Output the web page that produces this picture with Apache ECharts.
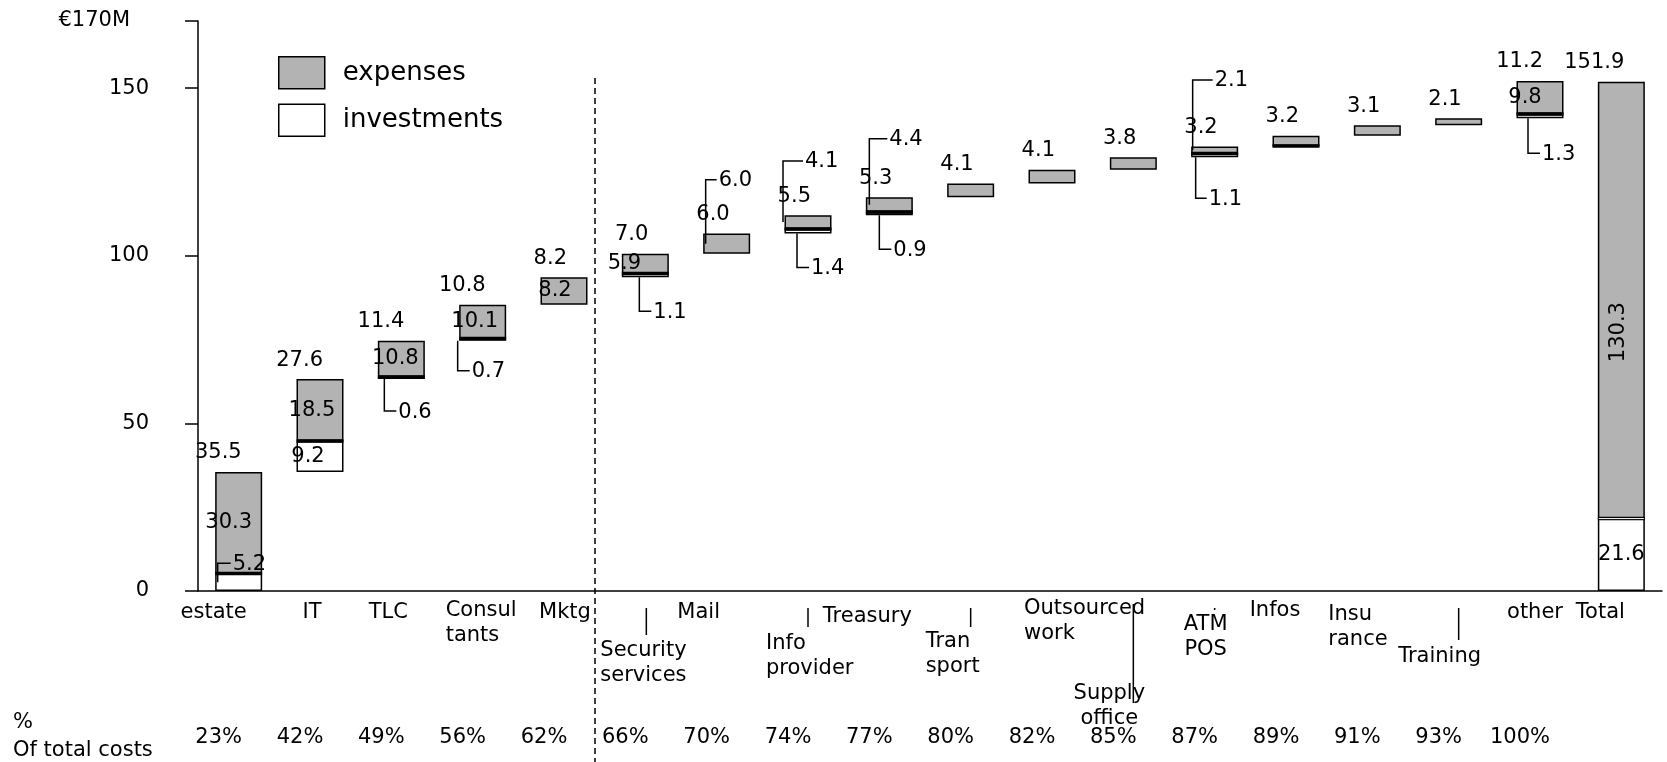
<!DOCTYPE html>
<html>
<head>
<meta charset="utf-8">
<script src="https://cdn.jsdelivr.net/npm/echarts@6/dist/echarts.min.js"></script>
<style>
  html, body { margin: 0; padding: 0; background: #fff; }
  #chart { width: 1667px; height: 762px; }
</style>
</head>
<body>
<div id="chart"></div>
<script>
// Cost categories, in waterfall order
const categories = ['estate', 'IT', 'TLC', 'Consul\ntants', 'Mktg', 'Security\nservices', 'Mail',
  'Info\nprovider', 'Treasury', 'Tran\nsport', 'Outsourced\nwork', 'Supply\noffice', 'ATM\nPOS',
  'Infos', 'Insu\nrance', 'Training', 'other', 'Total'];

// Expenses and investments per category (€M)
const expenses    = [30.3, 18.5, 10.8, 10.1, 8.2, 5.9, 6.0, 4.1, 4.4, 4.1, 4.1, 3.8, 2.1, 3.1, 3.1, 2.1, 9.8, 130.3];
const investments = [5.2, 9.2, 0.6, 0.7, 0, 1.1, 0, 1.4, 0.9, 0, 0, 0, 1.1, 0.1, 0, 0, 1.3, 21.6];

// Category totals as printed above each step
const totals = ['35.5', '27.6', '11.4', '10.8', '8.2', '7.0', '6.0', '5.5', '5.3', '4.1', '4.1', '3.8',
  '3.2', '3.2', '3.1', '2.1', '11.2', '151.9'];

// Cumulative share of total costs
const shareOfTotal = ['23%', '42%', '49%', '56%', '62%', '66%', '70%', '74%', '77%', '80%', '82%', '85%',
  '87%', '89%', '91%', '93%', '100%'];

// Value-axis ticks
const yTicks = [0, 50, 100, 150, 170];
const yMax = 170;

const TOTAL = categories.length - 1;
const FONT = '"DejaVu Sans", Verdana, sans-serif';
const FS = 21;

// Waterfall bases: each step starts where the previous one ended; Total starts at 0
const bases = [];
let run = 0;
for (let i = 0; i < TOTAL; i++) {
  bases.push(+run.toFixed(2));
  run += expenses[i] + investments[i];
}
bases.push(0);

// How each segment value is shown: inside the bar, or on an up / down leader
const segmentLabels = [
  { cat: 0, part: 'exp', mode: 'in', dx: -10 },
  { cat: 0, part: 'inv', mode: 'up', dx: -21, len: 19, arm: 13 },
  { cat: 1, part: 'exp', mode: 'in', dx: -8 },
  { cat: 1, part: 'inv', mode: 'in', dx: -12 },
  { cat: 2, part: 'exp', mode: 'in', dx: -6 },
  { cat: 2, part: 'inv', mode: 'down', dx: -17, len: 32, arm: 12 },
  { cat: 3, part: 'exp', mode: 'in', dx: -8 },
  { cat: 3, part: 'inv', mode: 'down', dx: -25, len: 30, arm: 12 },
  { cat: 4, part: 'exp', mode: 'in', dx: -9 },
  { cat: 5, part: 'exp', mode: 'in', dx: -21 },
  { cat: 5, part: 'inv', mode: 'down', dx: -6, len: 34, arm: 12 },
  { cat: 6, part: 'exp', mode: 'up', dx: -21, len: 64, arm: 11 },
  { cat: 7, part: 'exp', mode: 'up', dx: -25, len: 61, arm: 20 },
  { cat: 7, part: 'inv', mode: 'down', dx: -11, len: 34, arm: 12 },
  { cat: 8, part: 'exp', mode: 'up', dx: -20, len: 66, arm: 18 },
  { cat: 8, part: 'inv', mode: 'down', dx: -10, len: 34, arm: 12 },
  { cat: 12, part: 'exp', mode: 'up', dx: -22, len: 70, arm: 20 },
  { cat: 12, part: 'inv', mode: 'down', dx: -19, len: 41, arm: 11 },
  { cat: 16, part: 'exp', mode: 'in', dx: -15 },
  { cat: 16, part: 'inv', mode: 'down', dx: -12, len: 35, arm: 12 },
  { cat: 17, part: 'exp', mode: 'in', dx: -3, dy: 32, rotate: true },
  { cat: 17, part: 'inv', mode: 'in', dx: 0 }
];

// Placement of the category names under the axis (dx from bar centre, dy of first line below axis)
const nameLayout = [
  { dx: -25, dy: 22, align: 'center' },
  { dx: -8, dy: 22, align: 'center' },
  { dx: -13, dy: 22, align: 'center' },
  { dx: -37, dy: 20, align: 'left' },
  { dx: 1, dy: 22, align: 'center' },
  { dx: -45, dy: 60, align: 'left', lead: [1, 17, 44] },
  { dx: -28, dy: 22, align: 'center' },
  { dx: -42, dy: 53, align: 'left', lead: [0, 17, 36] },
  { dx: -22, dy: 26, align: 'center' },
  { dx: -45, dy: 51, align: 'left', lead: [0, 17, 36] },
  { dx: -28, dy: 18, align: 'left' },
  { dx: -24, dy: 103, align: 'center', lead: [0, 13, 112] },
  { dx: -9, dy: 34, align: 'center', lead: [0, 17, 19] },
  { dx: -21, dy: 20, align: 'center' },
  { dx: -49, dy: 24, align: 'left' },
  { dx: -19, dy: 66, align: 'center', lead: [0, 17, 49] },
  { dx: -5, dy: 22, align: 'center' },
  { dx: -21, dy: 22, align: 'center' }
];

const BAR_W = 47;
const LINE = { stroke: '#000', lineWidth: 1.5 };

function txt(text, x, y, align, vAlign, extra) {
  return Object.assign({
    type: 'text', x: x, y: y,
    style: { text: text, fill: '#000', font: FS + 'px ' + FONT, align: align, verticalAlign: vAlign, lineHeight: 25 }
  }, extra || {});
}

function renderItem(params, api) {
  const i = params.dataIndex;
  const out = [];
  const p0 = api.coord([i, 0]);
  const cx = p0[0], axisY = p0[1];
  const yOf = v => api.coord([i, v])[1];
  const b = bases[i], inv = investments[i], exp = expenses[i];
  const topY = yOf(b + inv + exp);

  // divider between investment and expense parts
  if (inv > 0) {
    const yb = yOf(b + inv);
    const x1 = cx - BAR_W / 2, x2 = cx + BAR_W / 2;
    out.push({ type: 'line', shape: { x1: x1, y1: yb, x2: x2, y2: yb }, style: { stroke: '#000', lineWidth: 3.5 } });
    if (i === TOTAL) {
      out.push({ type: 'line', shape: { x1: x1 + 1, y1: yb, x2: x2 - 1, y2: yb }, style: { stroke: '#fff', lineWidth: 1 } });
    }
  }

  // step total above the bar
  out.push(txt(totals[i], cx + 3, topY - 19, 'right', 'middle'));

  // segment values
  segmentLabels.filter(s => s.cat === i).forEach(s => {
    const val = s.part === 'exp' ? exp : inv;
    const lo = s.part === 'exp' ? b + inv : b;
    const hi = lo + val;
    const text = val.toFixed(1);
    if (s.mode === 'in') {
      const ym = (yOf(lo) + yOf(hi)) / 2 + (s.dy || 0);
      if (s.rotate) {
        out.push(txt(text, cx + s.dx, ym, 'center', 'middle', { rotation: Math.PI / 2 }));
      } else {
        out.push(txt(text, cx + s.dx, ym, 'center', 'middle'));
      }
    } else {
      const x = cx + s.dx;
      const y0 = s.mode === 'up' ? (yOf(lo) + yOf(hi)) / 2 : yOf(lo);
      const y1 = s.mode === 'up' ? y0 - s.len : y0 + s.len;
      out.push({ type: 'polyline', shape: { points: [[x, y0], [x, y1], [x + s.arm, y1]] },
        style: Object.assign({ fill: null }, LINE) });
      out.push(txt(text, x + s.arm + 2, y1 + 1, 'left', 'middle'));
    }
  });

  // category name and its leader line
  const n = nameLayout[i];
  out.push(txt(categories[i], cx + n.dx, axisY + n.dy - 12.5, n.align, 'top'));
  if (n.lead) {
    out.push({ type: 'line', shape: { x1: cx + n.lead[0], y1: axisY + n.lead[1], x2: cx + n.lead[0], y2: axisY + n.lead[2] },
      style: LINE });
  }

  // cumulative share row
  if (i < shareOfTotal.length) {
    out.push(txt(shareOfTotal[i], cx - 20, axisY + 147, 'center', 'middle'));
  }

  // dashed divider after the five largest cost items
  if (i === 4) {
    const xd = cx + 31;
    out.push({ type: 'line', shape: { x1: xd, y1: yOf(153), x2: xd, y2: axisY + 175 },
      style: { stroke: '#000', lineWidth: 1.5, lineDash: [6, 4] } });
  }

  return { type: 'group', children: out };
}

const chart = echarts.init(document.getElementById('chart'), null, { renderer: 'canvas' });

chart.setOption({
  animation: false,
  backgroundColor: '#fff',
  textStyle: { fontFamily: FONT },
  grid: { left: 198, right: 5, top: 21, bottom: 171, containLabel: false },
  legend: {
    data: ['expenses', 'investments'],
    orient: 'vertical',
    left: 278, top: 56,
    itemWidth: 46, itemHeight: 32, itemGap: 14,
    padding: 0,
    icon: 'rect',
    selectedMode: false,
    itemStyle: { borderColor: '#000', borderWidth: 1.5 },
    textStyle: { fontSize: 26, color: '#000', fontFamily: FONT, padding: [0, 0, 0, 13] }
  },
  xAxis: {
    type: 'category',
    data: categories,
    axisLine: { lineStyle: { color: '#000', width: 1.5 } },
    axisTick: { show: false },
    axisLabel: { show: false },
    splitLine: { show: false }
  },
  yAxis: {
    type: 'value',
    min: 0, max: yMax,
    axisLine: { show: true, lineStyle: { color: '#000', width: 1.5 } },
    axisTick: { show: true, length: 13, lineStyle: { color: '#000', width: 1.5 }, customValues: yTicks },
    axisLabel: {
      customValues: yTicks,
      margin: 49,
      color: '#000',
      fontSize: 21,
      fontFamily: FONT,
      formatter: v => v === yMax ? '{top|€' + v + 'M}' : String(v),
      rich: { top: { fontSize: 21, fontFamily: FONT, color: '#000', padding: [0, 19, 0, 0] } }
    },
    splitLine: { show: false }
  },
  series: [
    {
      name: 'base', type: 'bar', stack: 'w', barWidth: BAR_W, silent: true,
      itemStyle: { color: 'rgba(0,0,0,0)', borderWidth: 0 },
      data: bases
    },
    {
      name: 'investments', type: 'bar', stack: 'w', barWidth: BAR_W,
      itemStyle: { color: '#ffffff', borderColor: '#000', borderWidth: 1.5 },
      data: investments.map(v => v > 0 ? v : { value: 0, itemStyle: { borderWidth: 0 } })
    },
    {
      name: 'expenses', type: 'bar', stack: 'w', barWidth: BAR_W,
      itemStyle: { color: '#b3b3b3', borderColor: '#000', borderWidth: 1.5 },
      data: expenses
    },
    {
      name: 'annotations', type: 'custom', renderItem: renderItem, z: 10, silent: true,
      clip: false,
      data: categories.map((c, i) => [i, 0])
    }
  ],
  graphic: [
    { type: 'text', left: 13, top: 712, style: { text: '%', fill: '#000', font: FS + 'px ' + FONT } },
    { type: 'text', left: 13, top: 740, style: { text: 'Of total costs', fill: '#000', font: FS + 'px ' + FONT } }
  ]
});
</script>
</body>
</html>
